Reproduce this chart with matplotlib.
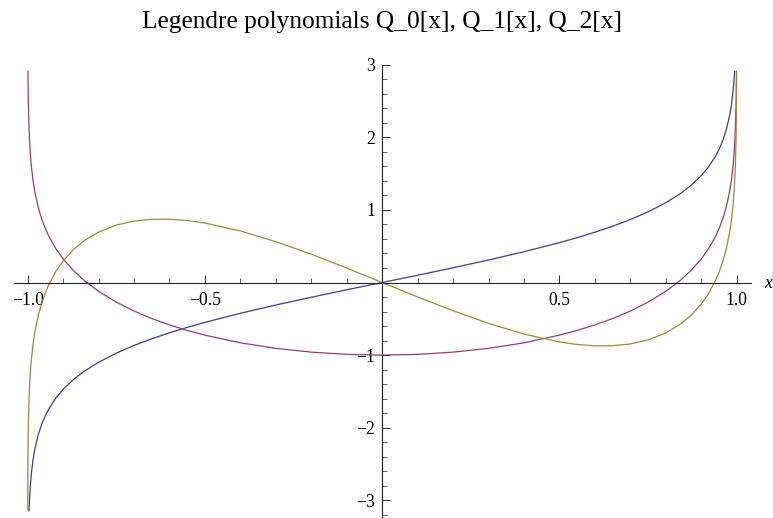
"""
Legendre functions of the second kind Q_0, Q_1, Q_2 on (-1, 1),
drawn Mathematica-style: axes through the origin, serif text.
"""

import matplotlib
matplotlib.use("Agg")
import matplotlib.pyplot as plt
from matplotlib.ticker import FixedLocator, MultipleLocator

# ── Data ─────────────────────────────────────────────────────────────────────

q0_x = [-0.9963, -0.996, -0.993, -0.99, -0.985, -0.98, -0.97, -0.96, -0.95, -0.94,
        -0.92, -0.9, -0.87, -0.84, -0.8, -0.75, -0.7, -0.65, -0.6, -0.55, -0.5,
        -0.4, -0.3, -0.2, -0.1, 0.0, 0.1, 0.2, 0.3, 0.4, 0.5, 0.55, 0.6, 0.65,
        0.7, 0.75, 0.8, 0.84, 0.87, 0.9, 0.92, 0.94, 0.95, 0.96, 0.97, 0.98,
        0.985, 0.99, 0.993, 0.994]
q0_y = [-3.145, -3.106, -2.826, -2.647, -2.443, -2.298, -2.092, -1.946, -1.832, -1.738,
        -1.589, -1.472, -1.333, -1.221, -1.099, -0.973, -0.867, -0.775, -0.693, -0.618,
        -0.549, -0.424, -0.310, -0.203, -0.100, 0.0, 0.100, 0.203, 0.310, 0.424,
        0.549, 0.618, 0.693, 0.775, 0.867, 0.973, 1.099, 1.221, 1.333, 1.472,
        1.589, 1.738, 1.832, 1.946, 2.092, 2.298, 2.443, 2.647, 2.826, 2.903]

q1_x = [-0.9992, -0.999, -0.998, -0.996, -0.993, -0.99, -0.985, -0.98, -0.97, -0.96,
        -0.95, -0.94, -0.92, -0.9, -0.87, -0.84, -0.8, -0.75, -0.7, -0.65, -0.6,
        -0.55, -0.5, -0.4, -0.3, -0.2, -0.1, 0.0, 0.1, 0.2, 0.3, 0.4, 0.5, 0.55,
        0.6, 0.65, 0.7, 0.75, 0.8, 0.84, 0.87, 0.9, 0.92, 0.94, 0.95, 0.96, 0.97,
        0.98, 0.985, 0.99, 0.993, 0.996, 0.998, 0.999, 0.9992]
q1_y = [2.909, 2.796, 2.446, 2.094, 1.806, 1.620, 1.406, 1.252, 1.030, 0.868,
        0.740, 0.634, 0.462, 0.325, 0.160, 0.026, -0.121, -0.270, -0.393, -0.496,
        -0.584, -0.660, -0.725, -0.831, -0.907, -0.959, -0.990, -1.0, -0.990, -0.959,
        -0.907, -0.831, -0.725, -0.660, -0.584, -0.496, -0.393, -0.270, -0.121, 0.026,
        0.160, 0.325, 0.462, 0.634, 0.740, 0.868, 1.030, 1.252, 1.406, 1.620,
        1.806, 2.094, 2.446, 2.796, 2.909]

q2_x = [-0.99981, -0.9998, -0.9995, -0.999, -0.998, -0.996, -0.993, -0.99, -0.985,
        -0.98, -0.97, -0.96, -0.95, -0.94, -0.92, -0.9, -0.87, -0.84, -0.8, -0.75,
        -0.7, -0.65, -0.6, -0.55, -0.5, -0.4, -0.3, -0.2, -0.1, 0.0, 0.1, 0.2, 0.3,
        0.4, 0.5, 0.55, 0.6, 0.65, 0.7, 0.75, 0.8, 0.84, 0.87, 0.9, 0.92, 0.94,
        0.95, 0.96, 0.97, 0.98, 0.985, 0.99, 0.993, 0.996, 0.998, 0.999, 0.9995, 0.9997]
q2_y = [-3.128, -3.103, -2.641, -2.290, -1.936, -1.575, -1.277, -1.083, -0.856,
        -0.691, -0.452, -0.277, -0.139, -0.025, 0.157, 0.297, 0.458, 0.578, 0.695,
        0.791, 0.846, 0.871, 0.872, 0.854, 0.819, 0.710, 0.563, 0.389, 0.199, 0.0,
        -0.199, -0.389, -0.563, -0.710, -0.819, -0.854, -0.872, -0.871, -0.846,
        -0.791, -0.695, -0.578, -0.458, -0.297, -0.157, 0.025, 0.139, 0.277, 0.452,
        0.691, 0.856, 1.083, 1.277, 1.575, 1.936, 2.290, 2.641, 2.899]

x_ticks = [-1.0, -0.5, 0.5, 1.0]
x_tick_labels = ["\u22121.0", "\u22120.5", "0.5", "1.0"]
y_ticks = [-3, -2, -1, 1, 2, 3]
y_tick_labels = ["\u22123", "\u22122", "\u22121", "1", "2", "3"]

TITLE = "Legendre polynomials Q_0[x], Q_1[x], Q_2[x]"

# ── Style ─────────────────────────────────────────────────────────────────────

W, H = 773, 518
DPI = 100
SERIF = ["Liberation Serif", "DejaVu Serif"]
COLORS = ["#3d3d99", "#993d71", "#998b3d"]   # Mathematica default plot colours

XLIM = (-1.04, 1.04)
YLIM = (-3.23, 3.0)

plt.rcParams["font.family"] = SERIF
plt.rcParams["axes.unicode_minus"] = True

# ── Figure ────────────────────────────────────────────────────────────────────

fig = plt.figure(figsize=(W / DPI, H / DPI), dpi=DPI)
# axes box in pixels: x from 13.5 to 750.9, y from 1 to 453.3 (from bottom)
ax = fig.add_axes([13.5 / W, 1.0 / H, 737.4 / W, 452.3 / H])
ax.patch.set_alpha(0)

for xs, ys, c in [(q0_x, q0_y, COLORS[0]),
                  (q1_x, q1_y, COLORS[1]),
                  (q2_x, q2_y, COLORS[2])]:
    ax.plot(xs, ys, color=c, lw=0.9, solid_joinstyle="round")

ax.set_xlim(*XLIM)
ax.set_ylim(*YLIM)

# axes through the origin
for side in ("top", "right"):
    ax.spines[side].set_visible(False)
for side in ("left", "bottom"):
    ax.spines[side].set_position(("data", 0))
    ax.spines[side].set_color("#222222")
    ax.spines[side].set_linewidth(0.8)

ax.xaxis.set_major_locator(FixedLocator(x_ticks))
ax.set_xticklabels(x_tick_labels)
ax.xaxis.set_minor_locator(MultipleLocator(0.1))
ax.yaxis.set_major_locator(FixedLocator(y_ticks))
ax.set_yticklabels(y_tick_labels)
ax.yaxis.set_minor_locator(MultipleLocator(0.2))

ax.tick_params(which="major", direction="in", length=5.5, width=0.75,
               color="#333333", labelsize=12.7)
ax.tick_params(which="minor", direction="in", length=3.4, width=0.6,
               color="#444444")
ax.tick_params(axis="x", which="major", pad=6.5)
ax.tick_params(axis="y", which="major", pad=5.2)

# axis label kept just inside the right edge
fig.text(764 / W, (H - 288) / H, "x", style="italic", fontsize=12.7,
         ha="left", va="baseline")
fig.text(381.7 / W, (H - 28) / H, TITLE, fontsize=18.3,
         ha="center", va="baseline")

fig.savefig("out.png", dpi=DPI)
plt.close(fig)
